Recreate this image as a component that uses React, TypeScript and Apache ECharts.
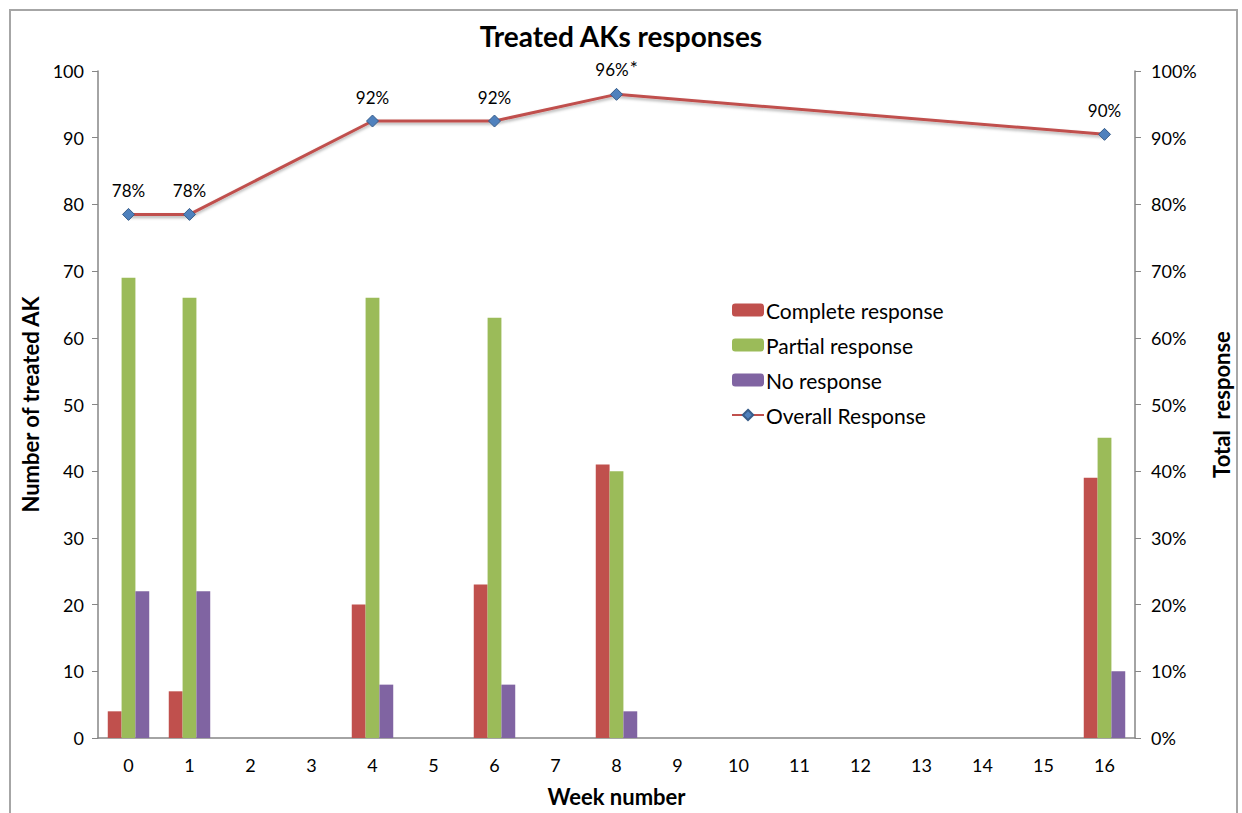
import React, { useEffect, useRef } from "react";
import * as echarts from "echarts";

const weeks = ["0", "1", "2", "3", "4", "5", "6", "7", "8", "9", "10", "11", "12", "13", "14", "15", "16"];
const completeResponse = [4, 7, null, null, 20, null, 23, null, 41, null, null, null, null, null, null, null, 39];
const partialResponse = [69, 66, null, null, 66, null, 63, null, 40, null, null, null, null, null, null, null, 45];
const noResponse = [22, 22, null, null, 8, null, 8, null, 4, null, null, null, null, null, null, null, 10];
const overallResponse = [78.5, 78.5, null, null, 92.5, null, 92.5, null, 96.5, null, null, null, null, null, null, null, 90.5];
const overallLabels = ["78%", "78%", "", "", "92%", "", "92%", "", "96%{s|*}", "", "", "", "", "", "", "", "90%"];

const FONT = "Lato, 'Open Sans', sans-serif";

export default function App() {
  const ref = useRef<HTMLDivElement>(null);
  useEffect(() => {
    if (!ref.current) return;
    const chart = echarts.init(ref.current, null, { renderer: "svg" });
    const axisGray = "#868686";
    chart.setOption({
      animation: false,
      backgroundColor: "#ffffff",
      textStyle: { fontFamily: FONT, color: "#000" },
      title: {
        text: "Treated AKs responses",
        left: "center",
        top: 16,
        textStyle: { fontFamily: FONT, fontSize: 28, fontWeight: "bold", color: "#000", lineHeight: 30 },
      },
      graphic: [
        {
          type: "rect",
          shape: { x: 10, y: 10, width: 1227, height: 830 },
          style: { fill: "none", stroke: "#a6a6a6", lineWidth: 2 },
          silent: true,
          z: -1,
        },
      ],
      legend: {
        orient: "vertical",
        left: 726,
        top: 294,
        itemWidth: 32,
        itemHeight: 13,
        itemGap: 13,
        textStyle: { fontFamily: FONT, fontSize: 21, color: "#000", lineHeight: 22, padding: [0, 0, 0, -3] },
        data: ["Complete response", "Partial response", "No response", "Overall Response"],
      },
      grid: { left: 98, right: 107, top: 71, bottom: 75, containLabel: false },
      xAxis: {
        type: "category",
        data: weeks,
        name: "Week number",
        nameLocation: "middle",
        nameGap: 47,
        nameTextStyle: { fontFamily: FONT, fontSize: 22, fontWeight: "bold", color: "#000" },
        axisLine: { lineStyle: { color: axisGray, width: 1.5 } },
        axisTick: { show: false },
        axisLabel: { fontFamily: FONT, fontSize: 18, color: "#000", margin: 18 },
      },
      yAxis: [
        {
          type: "value",
          min: 0,
          max: 100,
          interval: 10,
          name: "Number of treated AK",
          nameLocation: "middle",
          nameGap: 57,
          nameTextStyle: { fontFamily: FONT, fontSize: 22, fontWeight: "bold", color: "#000" },
          axisLine: { show: true, lineStyle: { color: axisGray, width: 1.5 } },
          axisTick: { show: true, length: 6, lineStyle: { color: axisGray } },
          splitLine: { show: false },
          axisLabel: { fontFamily: FONT, fontSize: 18, color: "#000", margin: 14 },
        },
        {
          type: "value",
          min: 0,
          max: 100,
          interval: 10,
          name: "Total  response",
          nameLocation: "middle",
          nameGap: 75,
          nameRotate: 90,
          nameTextStyle: { fontFamily: FONT, fontSize: 22, fontWeight: "bold", color: "#000" },
          axisLine: { show: true, lineStyle: { color: axisGray, width: 1.5 } },
          axisTick: { show: true, length: 6, lineStyle: { color: axisGray } },
          splitLine: { show: false },
          axisLabel: { fontFamily: FONT, fontSize: 18, color: "#000", margin: 16, formatter: (v: number) => v + "%" },
        },
      ],
      series: [
        {
          name: "Complete response",
          type: "bar",
          data: completeResponse,
          barGap: "0%",
          barCategoryGap: "32%",
          itemStyle: { color: "#C0504D" },
        },
        {
          name: "Partial response",
          type: "bar",
          data: partialResponse,
          barGap: "0%",
          barCategoryGap: "32%",
          itemStyle: { color: "#9BBB59" },
        },
        {
          name: "No response",
          type: "bar",
          data: noResponse,
          barGap: "0%",
          barCategoryGap: "32%",
          itemStyle: { color: "#8064A2" },
        },
        {
          name: "Overall Response",
          type: "line",
          yAxisIndex: 1,
          data: overallResponse,
          connectNulls: true,
          symbol: "diamond",
          symbolSize: 12,
          itemStyle: { color: "#4F81BD", borderColor: "#385D8A", borderWidth: 1 },
          lineStyle: {
            color: "#C0504D",
            width: 3,
            shadowColor: "rgba(0,0,0,0.3)",
            shadowBlur: 3,
            shadowOffsetY: 2,
          },
          label: {
            show: true,
            position: "top",
            distance: 9,
            fontFamily: FONT,
            fontSize: 17,
            color: "#000",
            formatter: (p: any) => overallLabels[p.dataIndex],
            rich: {
              s: { fontFamily: FONT, fontSize: 19, color: "#000", padding: [0, 0, 4, 1], lineHeight: 18 },
            },
          },
          z: 5,
        },
      ],
    });
    return () => chart.dispose();
  }, []);
  return <div ref={ref} style={{ position: "fixed", left: 0, top: 0, width: 1242, height: 813 }} />;
}
